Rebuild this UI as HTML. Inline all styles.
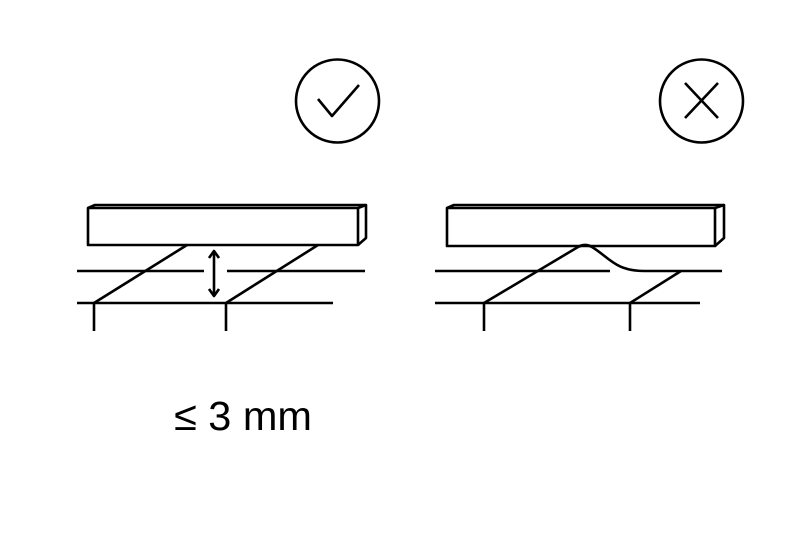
<!DOCTYPE html>
<html><head><style>body{margin:0;background:#fff}svg{display:block}</style></head><body>
<svg width="800" height="533" viewBox="0 0 800 533" xmlns="http://www.w3.org/2000/svg">
<g fill="none" stroke="#000" stroke-width="2.6" stroke-linecap="butt" stroke-linejoin="round">
<circle cx="337.5" cy="101" r="41.5"/>
<polyline points="318,99 332,116 359,85"/>
<circle cx="701.5" cy="101" r="41.5"/>
<line x1="685" y1="83" x2="718" y2="118"/>
<line x1="718" y1="83" x2="685" y2="118"/>
<!-- left -->
<rect x="88" y="208" width="270" height="37"/>
<polyline points="88,208 95,205 366,205 366,238 358,245"/>
<line x1="358" y1="208" x2="366" y2="205"/>
<line x1="77" y1="271" x2="204" y2="271"/>
<line x1="227" y1="271" x2="365" y2="271"/>
<line x1="77" y1="303" x2="333" y2="303"/>
<line x1="94" y1="303" x2="94" y2="331"/>
<line x1="226" y1="303" x2="226" y2="331"/>
<line x1="94" y1="303" x2="187" y2="245"/>
<line x1="226" y1="303" x2="318" y2="245"/>
<line x1="214" y1="253" x2="214" y2="294"/>
<polyline points="209,258 214,251 219,258"/>
<polyline points="209,289 214,296 219,289"/>
<!-- right -->
<rect x="447" y="208" width="268" height="38"/>
<polyline points="447,208 454,205 724,205 724,238 715,246"/>
<line x1="715" y1="208" x2="724" y2="205"/>
<line x1="435" y1="271" x2="610" y2="271"/>
<path d="M578,247 Q585,243 592,247 C610,258 615,271 645,271 L722,271"/>
<line x1="435" y1="303" x2="700" y2="303"/>
<line x1="484" y1="303" x2="484" y2="331"/>
<line x1="630" y1="303" x2="630" y2="331"/>
<line x1="484" y1="303" x2="578" y2="247"/>
<line x1="630" y1="303" x2="681" y2="271"/>
</g>
<text x="174" y="430" font-family="Liberation Sans, sans-serif" font-size="41" textLength="138" lengthAdjust="spacingAndGlyphs" fill="#000">≤ 3 mm</text>
</svg>
</body></html>
